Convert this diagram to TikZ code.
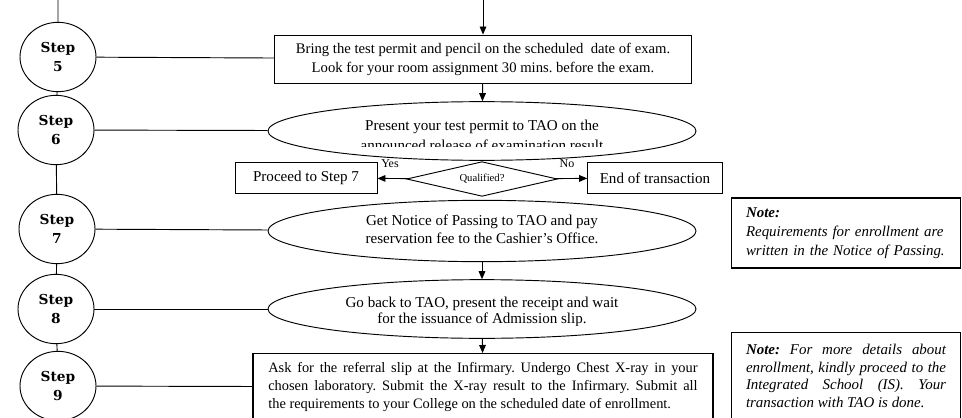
\documentclass[tikz,border=0pt]{standalone}
\usepackage{fontspec}
\setmainfont{Liberation Serif}
\newfontfamily\stepfont{DejaVu Serif}
\usetikzlibrary{positioning,arrows.meta,shapes.geometric}

\begin{document}
\frenchspacing
\begin{tikzpicture}[
        x=0.75pt, y=-0.75pt,
        >={Triangle[length=6pt,width=5pt]},
        line width=0.7pt,
        stepnode/.style={ellipse, draw, minimum width=57pt, minimum height=52pt, inner sep=0pt, align=center, font=\stepfont\bfseries\fontsize{10.3}{14.5}\selectfont},
        taskbox/.style={rectangle, draw, inner sep=0pt, align=center, font=\fontsize{11}{14.2}\selectfont},
        taskoval/.style={ellipse, draw, minimum width=321pt, minimum height=44pt, inner sep=0pt},
        ovaltext/.style={inner sep=0pt, align=center, font=\fontsize{11.3}{13.5}\selectfont},
        sidebox/.style={rectangle, draw, inner sep=0pt, minimum height=23pt, font=\fontsize{11.3}{12}\selectfont},
        notebox/.style={rectangle, draw, line width=1.1pt, text width=150pt, inner xsep=11pt, align=left, font=\itshape\fontsize{11.2}{13.2}\selectfont}
    ]
      \useasboundingbox (0,0) rectangle (962,417);

      % steps on the left
      \coordinate (top) at (58,0);
      \node[stepnode] (s5) at (58,57) {Step\\5};
      \node[stepnode] (s6) at (56,130) {Step\\6};
      \node[stepnode] (s7) at (57,229) {Step\\7};
      \node[stepnode] (s8) at (56,309) {Step\\8};
      \node[stepnode] (s9) at (58,386) {Step\\9};
      \draw (top) -- (s5) -- (s6) -- (s7) -- (s8) -- (s9);

      % main column
      \coordinate (in) at (483,0);
      \node[taskbox, minimum width=313pt, minimum height=36pt] (b1) at (483,59)
        {Bring the test permit and pencil on the scheduled~ date of exam.\\Look for your room assignment 30 mins. before the exam.};
      \node[taskoval] (e1) at (482,131) {};
      \node[ovaltext] (t1a) at (482,127) {Present your test permit to TAO on the};
      \begin{scope}
        \clip (260,120) rectangle (700,146.5);
        \node[ovaltext] (t1b) at (482,145) {announced release of examination result};
      \end{scope}

      \node[diamond, draw, aspect=4.3, minimum width=113pt, minimum height=26pt, inner sep=0pt, font=\fontsize{8}{9}\selectfont] (dq) at (482,179) {Qualified?};
      \node[sidebox, minimum width=106.5pt] (go7) at (306,178) {Proceed to Step 7};
      \node[sidebox, minimum width=101pt] (endt) at (655,178) {End of transaction};
      \node[font=\fontsize{9}{10}\selectfont, inner sep=0pt] (yes) at (390,164) {Yes};
      \node[font=\fontsize{9}{10}\selectfont, inner sep=0pt] (no) at (567,164) {No};

      \node[taskoval, minimum height=46pt] (e2) at (482,231)
        {\fontsize{11.3}{13.5}\selectfont\begin{tabular}{@{}c@{}}Get Notice of Passing to TAO and pay\\reservation fee to the Cashier's Office.\end{tabular}};
      \node[taskoval] (e3) at (482,309) {};
      \node[ovaltext] (t3a) at (482,304) {Go back to TAO, present the receipt and wait};
      \begin{scope}
        \clip (260,300) rectangle (700,325.5);
        \node[ovaltext] (t3b) at (482,320) {for the issuance of Admission slip.};
      \end{scope}

      \node[taskbox, line width=1.1pt, anchor=north, text width=322pt, inner xsep=11.5pt, minimum height=50pt, align=justify, font=\fontsize{10.8}{13.2}\selectfont] (b3) at (483,353)
        {Ask for the referral slip at the Infirmary. Undergo Chest X-ray in your\linebreak
         chosen laboratory. Submit the X-ray result to the Infirmary. Submit all\linebreak
         the requirements to your College on the scheduled date of enrollment.};

      % notes
      \node[notebox, minimum height=52.5pt, font=\itshape\fontsize{11.2}{14.3}\selectfont] (n1) at (846,233)
        {\textbf{Note:}\\Requirements for enrollment are\\written in the Notice of Passing.};
      \node[notebox, anchor=north, minimum height=65pt, align=justify] (n2) at (846,332)
        {\textbf{Note:} For more details about\linebreak
         enrollment, kindly proceed to the\linebreak
         Integrated School (IS). Your\linebreak
         transaction with TAO is done.};

      % links from steps
      \draw (s5) -- (b1);
      \draw (s6) -- (e1);
      \draw (s7) -- (e2);
      \draw (s8) -- (e3);
      \draw (s9) -- (b3);

      % flow arrows
      \draw[->] (in) -- (b1);
      \draw[->] (b1) -- (e1);
      \draw[->] (dq) -- (go7);
      \draw[->] (dq) -- (endt);
      \draw[->] (e2) -- (e3);
      \draw[->] (e3) -- (b3);
    \end{tikzpicture}
\end{document}
